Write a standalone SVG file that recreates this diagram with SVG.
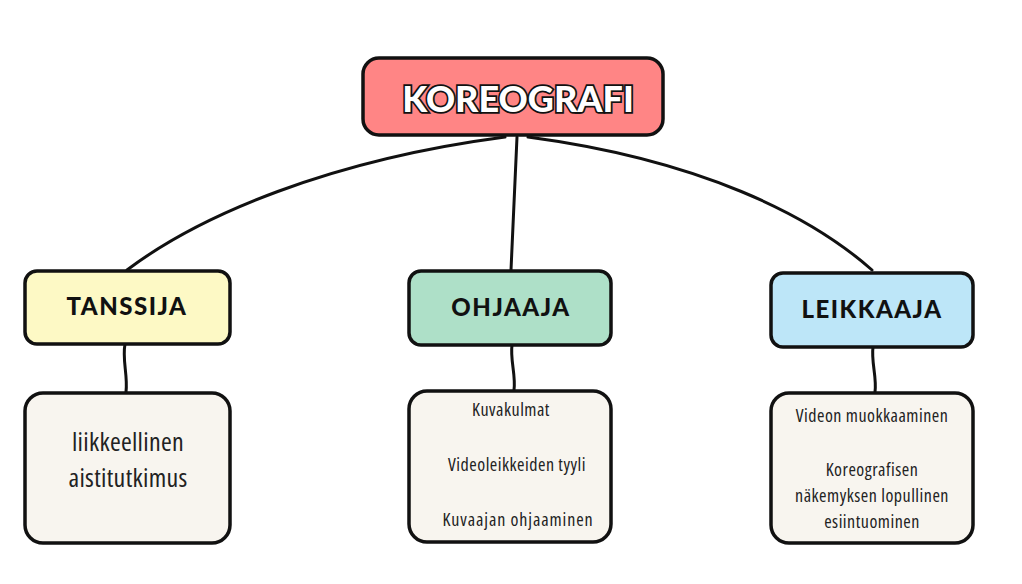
<svg xmlns="http://www.w3.org/2000/svg" width="1022" height="584" viewBox="0 0 1022 584">
<style>
.box{stroke:#111;stroke-width:3.5;stroke-linejoin:round}
.conn{fill:none;stroke:#111;stroke-width:3;stroke-linecap:round}
.head{font-family:"Lato","DejaVu Sans",sans-serif;font-weight:900;font-size:24px;fill:#111;text-anchor:middle;letter-spacing:1.5px}
.title{font-family:"Lato","DejaVu Sans",sans-serif;font-weight:900;font-size:36px;fill:#fff;stroke:#111;stroke-width:3.5;paint-order:stroke;text-anchor:middle;letter-spacing:0px}
.body{font-family:"Open Sans","DejaVu Sans Condensed",sans-serif;font-stretch:condensed;fill:#222;text-anchor:middle;font-size:18px;letter-spacing:0.5px}
</style>
<rect width="1022" height="584" fill="#fff"/>
<g id="connectors">
<path class="conn" d="M505 137 C330 160 200 215 127 270"/>
<path class="conn" d="M517 137 L511 270"/>
<path class="conn" d="M528 137 C700 160 810 215 872 270"/>
<path class="conn" d="M125 344 C122 360 128 375 126 392"/>
<path class="conn" d="M512 345 C510 360 516 375 514 390"/>
<path class="conn" d="M873 347 C871 362 877 377 875 392"/>
</g>
<g id="koreografi">
<rect class="box" x="363" y="58" width="300" height="77" rx="16" fill="#ff8585"/>
<text class="title" x="518" y="112">KOREOGRAFI</text>
</g>
<g id="tanssija">
<rect class="box" x="25" y="271" width="205" height="73" rx="12" fill="#fdf9c5"/>
<text class="head" x="127" y="315">TANSSIJA</text>
</g>
<g id="ohjaaja">
<rect class="box" x="409" y="271" width="202" height="74" rx="12" fill="#aee0c8"/>
<text class="head" x="511" y="316">OHJAAJA</text>
</g>
<g id="leikkaaja">
<rect class="box" x="771" y="273" width="202" height="74" rx="12" fill="#bde6f8"/>
<text class="head" x="872" y="318">LEIKKAAJA</text>
</g>
<g id="tanssija-detail">
<rect class="box" x="25" y="393" width="205" height="150" rx="18" fill="#f8f5ef"/>
<text class="body" x="128" y="451" style="font-size:26px;letter-spacing:0.3px">liikkeellinen</text>
<text class="body" x="128" y="487" style="font-size:26px;letter-spacing:0.3px">aistitutkimus</text>
</g>
<g id="ohjaaja-detail">
<rect class="box" x="409" y="391" width="202" height="151" rx="18" fill="#f8f5ef"/>
<text class="body" x="511" y="416">Kuvakulmat</text>
<text class="body" x="517" y="471">Videoleikkeiden tyyli</text>
<text class="body" x="518" y="526" style="letter-spacing:0.9px">Kuvaajan ohjaaminen</text>
</g>
<g id="leikkaaja-detail">
<rect class="box" x="771" y="393" width="202" height="150" rx="18" fill="#f8f5ef"/>
<text class="body" x="872" y="422">Videon muokkaaminen</text>
<text class="body" x="872" y="476">Koreografisen</text>
<text class="body" x="872" y="502">näkemyksen lopullinen</text>
<text class="body" x="872" y="528">esiintuominen</text>
</g>
</svg>
